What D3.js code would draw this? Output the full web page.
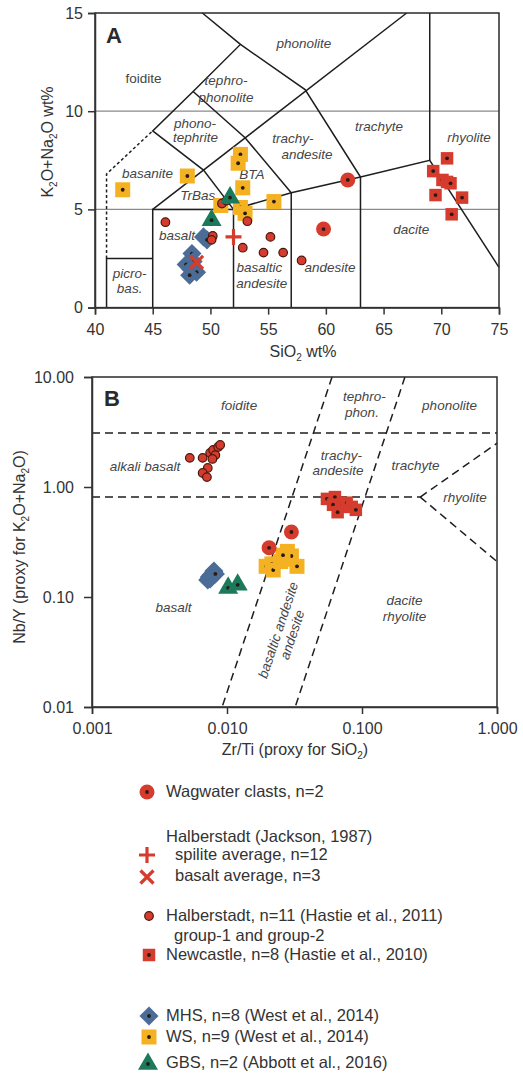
<!DOCTYPE html>
<html lang="en">
<head>
<meta charset="UTF-8" />
<title>TAS and Nb/Y vs Zr/Ti</title>
<script src="https://d3js.org/d3.v7.min.js"></script>
<style>
  body { margin: 0; background: #fff; }
  svg { font-family: "Liberation Sans", Arial, sans-serif; }
</style>
</head>
<body>
<svg id="chart"></svg>
<script>
// ---- panel A data: SiO2 wt%, K2O+Na2O wt%
var tasWagwater = [[61.9, 6.5], [59.8, 4.0]];
var tasSpilite = [[52.0, 3.6]];
var tasBasaltAvg = [[48.8, 2.3]];
var tasHalberstadt = [[46.1, 4.35], [51.0, 5.3], [51.4, 5.45], [53.2, 4.4], [50.2, 3.65], [50.1, 3.45],
  [52.8, 3.05], [55.2, 3.6], [54.6, 2.8], [56.3, 2.8], [57.9, 2.4]];
var tasNewcastle = [[70.5, 7.6], [69.3, 6.95], [70.1, 6.5], [70.5, 6.4], [70.8, 6.33], [69.5, 5.73], [71.8, 5.6], [70.9, 4.75]];
var tasMHS = [[49.4, 3.6], [49.7, 3.45], [48.4, 2.75], [48.5, 2.35], [47.9, 2.2], [48.3, 1.95], [48.8, 1.8], [48.2, 1.65]];
var tasWS = [[42.4, 6.0], [48.0, 6.7], [52.6, 7.8], [52.4, 7.35], [52.8, 6.1], [50.9, 5.2], [52.6, 5.1], [53.0, 4.8], [55.5, 5.4]];
var tasGBS = [[50.1, 4.45], [51.7, 5.6]];

var siTicks = [40, 45, 50, 55, 60, 65, 70, 75];
var alkTicks = [0, 5, 10, 15];
var alkGrid = [5, 10];

// TAS field boundaries (SiO2, alkali)
var tasLines = [
  [[41, 0], [41, 2.5], [45, 2.5]],
  [[45, 0], [45, 5], [52, 5], [57, 5.85], [63, 6.65], [69, 7.5], [75, 2.05]],
  [[52, 0], [52, 5]],
  [[57, 0], [57, 5.85]],
  [[63, 0], [63, 6.65]],
  [[69, 7.5], [69, 15]],
  [[45, 5], [67, 15]],
  [[52, 5], [49.4, 7.0], [45, 9.0], [48.5, 11.0], [52.6, 13.4], [49.3, 15]],
  [[52.6, 13.4], [58.2, 11.1], [63, 6.65]],
  [[48.5, 11.0], [53, 8.65], [57, 5.85]]
];
var tasDashed = [[[41, 2.5], [41, 6.8], [45, 9.0]]];
var tasLabels = [
  ["foidite", 44.2, 11.7, false], ["tephro-", 51.35, 11.55, true], ["phonolite", 51.35, 10.7, true],
  ["phono-", 48.66, 9.4, true], ["tephrite", 48.7, 8.68, true], ["phonolite", 58.1, 13.45, true],
  ["trachyte", 64.6, 9.24, true], ["trachy-", 57.15, 8.63, true], ["andesite", 58.37, 7.81, true],
  ["rhyolite", 72.4, 8.67, true], ["basanite", 44.55, 6.85, true], ["BTA", 53.6, 6.79, true],
  ["TrBas", 48.9, 5.73, true], ["basalt", 47.1, 3.69, true], ["picro-", 43.0, 1.76, true],
  ["bas.", 43.0, 1.0, true], ["basaltic", 54.25, 2.05, true], ["andesite", 54.45, 1.24, true],
  ["andesite", 60.36, 2.05, true], ["dacite", 67.4, 4.0, true]
];

// ---- panel B data: Zr/Ti, Nb/Y
var zrWagwater = [[0.030, 0.39], [0.0205, 0.28]];
var zrHalberstadt = [[0.0053, 1.84], [0.0066, 1.84], [0.0075, 2.04], [0.0079, 2.17], [0.0086, 2.31], [0.0089, 2.41],
  [0.0082, 1.95], [0.0078, 1.80], [0.0072, 1.49], [0.0066, 1.34], [0.0071, 1.23]];
var zrNewcastle = [[0.055, 0.78], [0.063, 0.81], [0.061, 0.69], [0.071, 0.66], [0.077, 0.72], [0.084, 0.66], [0.066, 0.59], [0.090, 0.62]];
var zrMHS = [[0.0072, 0.143], [0.0074, 0.152], [0.0075, 0.146], [0.0076, 0.158], [0.0078, 0.155], [0.0079, 0.165], [0.0080, 0.172], [0.0082, 0.162]];
var zrWS = [[0.0195, 0.19], [0.0215, 0.20], [0.022, 0.176], [0.025, 0.21], [0.027, 0.22], [0.028, 0.26], [0.030, 0.236], [0.026, 0.24], [0.033, 0.19]];
var zrGBS = [[0.0102, 0.121], [0.0120, 0.129]];

var zrTicks = [0.001, 0.01, 0.1, 1];
var nbTicks = [0.01, 0.1, 1, 10];

var wfLines = [
  [[0.001, 3.1], [1, 3.1]],
  [[0.001, 0.81], [0.27, 0.81]],
  [[0.27, 0.81], [1, 2.5]],
  [[0.27, 0.81], [1, 0.21]],
  [[0.060, 10], [0.0092, 0.01]],
  [[0.208, 10], [0.032, 0.01]]
];
var wfLabels = [
  ["foidite", 0.0123, 5.56], ["tephro-", 0.104, 6.72], ["phon.", 0.1, 4.8], ["phonolite", 0.445, 5.56],
  ["alkali basalt", 0.00247, 1.55], ["trachy-", 0.0705, 1.95], ["andesite", 0.0665, 1.43],
  ["trachyte", 0.249, 1.585], ["rhyolite", 0.579, 0.811], ["basalt", 0.00402, 0.0811],
  ["dacite", 0.2065, 0.094], ["rhyolite", 0.2065, 0.0672]
];

var red = "#d63c2d", yellow = "#f4b223", blue = "#4a6c97", green = "#1b7a5c";
var labelColor = "#454545";

var styles = {
  wagwater: { shape: "circle", r: 7.5, fill: red, dot: true },
  halberstadt: { shape: "circle", r: 4.3, fill: red, stroke: "#4a1810", dot: false },
  newcastle: { shape: "square", size: 12.5, fill: red, dot: true },
  mhs: { shape: "diamond", size: 13.5, fill: blue, dot: true },
  ws: { shape: "square", size: 15, fill: yellow, dot: true },
  gbs: { shape: "triangle", size: 20, fill: green, dot: true },
  spilite: { shape: "plus", size: 16, stroke: red },
  basaltAvg: { shape: "times", size: 13, stroke: red }
};

var plusSym = { draw: function (ctx, size) { var r = Math.sqrt(size) / 2; ctx.moveTo(-r, 0); ctx.lineTo(r, 0); ctx.moveTo(0, -r); ctx.lineTo(0, r); } };
var timesSym = { draw: function (ctx, size) { var r = Math.sqrt(size) / 2; ctx.moveTo(-r, -r); ctx.lineTo(r, r); ctx.moveTo(-r, r); ctx.lineTo(r, -r); } };

function drawMarker(g, st) {
  if (st.shape === "circle") {
    g.append("circle").attr("r", st.r).attr("fill", st.fill)
      .attr("stroke", st.stroke || "none").attr("stroke-width", 1.2);
  } else if (st.shape === "square" || st.shape === "diamond") {
    g.append("path").attr("d", d3.symbol().type(d3.symbolSquare).size(st.size * st.size))
      .attr("fill", st.fill).attr("transform", st.shape === "diamond" ? "rotate(45)" : null);
  } else if (st.shape === "triangle") {
    g.append("path").attr("d", d3.symbol().type(d3.symbolTriangle).size(st.size * st.size * 0.433))
      .attr("fill", st.fill);
  } else {
    g.append("path").attr("d", d3.symbol().type(st.shape === "plus" ? plusSym : timesSym).size(st.size * st.size))
      .attr("fill", "none").attr("stroke", st.stroke).attr("stroke-width", 3.2);
  }
  if (st.dot) g.append("circle").attr("r", 1.9).attr("fill", "#2a1a14");
}

function plotSeries(parent, data, x, y, st) {
  parent.append("g").selectAll("g").data(data).enter().append("g")
    .attr("transform", function (d) { return "translate(" + x(d[0]) + "," + y(d[1]) + ")"; })
    .each(function () { drawMarker(d3.select(this), st); });
}

function styleAxis(g) {
  g.select(".domain").attr("stroke", "#333").attr("stroke-width", 1.5);
  g.selectAll(".tick line").attr("stroke", "#333").attr("stroke-width", 1.5);
  g.selectAll(".tick text").attr("font-size", 16).attr("fill", "#333")
    .attr("font-family", "Liberation Sans, Arial, sans-serif");
}

var svg = d3.select("#chart").attr("width", 523).attr("height", 1076);
svg.append("rect").attr("width", 523).attr("height", 1076).attr("fill", "#fff");

// ================= panel A =================
var xA = d3.scaleLinear().domain([40, 75]).range([95, 499]);
var yA = d3.scaleLinear().domain([0, 15]).range([307.6, 13]);
var gA = svg.append("g");

gA.selectAll(".grid").data(alkGrid).enter().append("line")
  .attr("x1", xA(40)).attr("x2", xA(75)).attr("y1", yA).attr("y2", yA)
  .attr("stroke", "#8a8a8a").attr("stroke-width", 1.3);

var lineA = d3.line().x(function (d) { return xA(d[0]); }).y(function (d) { return yA(d[1]); });
gA.selectAll(".field").data(tasLines).enter().append("path")
  .attr("d", lineA).attr("fill", "none").attr("stroke", "#1e1e1e").attr("stroke-width", 1.5);
gA.selectAll(".dash").data(tasDashed).enter().append("path")
  .attr("d", lineA).attr("fill", "none").attr("stroke", "#1e1e1e").attr("stroke-width", 1.5)
  .attr("stroke-dasharray", "3,2.5");

gA.append("rect").attr("x", xA(40)).attr("y", yA(15)).attr("width", xA(75) - xA(40)).attr("height", yA(0) - yA(15))
  .attr("fill", "none").attr("stroke", "#2a2a2a").attr("stroke-width", 1.5);

gA.selectAll(".lab").data(tasLabels).enter().append("text")
  .attr("x", function (d) { return xA(d[1]); }).attr("y", function (d) { return yA(d[2]); })
  .attr("dy", "0.35em").attr("text-anchor", "middle").attr("font-size", 13.5)
  .attr("font-style", function (d) { return d[3] ? "italic" : "normal"; })
  .attr("fill", labelColor).text(function (d) { return d[0]; });

gA.append("text").attr("x", 106).attr("y", 43).attr("font-size", 22).attr("font-weight", "bold")
  .attr("fill", "#2a2a2a").text("A");

plotSeries(gA, tasWS, xA, yA, styles.ws);
plotSeries(gA, tasMHS, xA, yA, styles.mhs);
plotSeries(gA, tasNewcastle, xA, yA, styles.newcastle);
plotSeries(gA, tasHalberstadt, xA, yA, styles.halberstadt);
plotSeries(gA, tasWagwater, xA, yA, styles.wagwater);
plotSeries(gA, tasGBS, xA, yA, styles.gbs);
plotSeries(gA, tasSpilite, xA, yA, styles.spilite);
plotSeries(gA, tasBasaltAvg, xA, yA, styles.basaltAvg);

gA.append("g").attr("transform", "translate(0," + yA(0) + ")")
  .call(d3.axisBottom(xA).tickValues(siTicks).tickSize(7).tickPadding(9)).call(styleAxis);
gA.append("g").attr("transform", "translate(" + xA(40) + ",0)")
  .call(d3.axisLeft(yA).tickValues(alkTicks).tickSize(7).tickPadding(5)).call(styleAxis);

var tA = gA.append("text").attr("x", 303).attr("y", 357).attr("text-anchor", "middle")
  .attr("font-size", 16).attr("fill", "#333");
tA.append("tspan").text("SiO");
tA.append("tspan").attr("font-size", 10).attr("dy", 4).text("2");
tA.append("tspan").attr("dy", -4).text(" wt%");

var yTA = gA.append("text").attr("transform", "translate(53,142) rotate(-90)").attr("text-anchor", "middle")
  .attr("font-size", 16).attr("fill", "#333");
yTA.append("tspan").text("K");
yTA.append("tspan").attr("font-size", 10).attr("dy", 4).text("2");
yTA.append("tspan").attr("dy", -4).text("O+Na");
yTA.append("tspan").attr("font-size", 10).attr("dy", 4).text("2");
yTA.append("tspan").attr("dy", -4).text("O wt%");

// ================= panel B =================
var xB = d3.scaleLog().domain([0.001, 1]).range([92, 497]);
var yB = d3.scaleLog().domain([0.01, 10]).range([707, 377]);
var gB = svg.append("g");

var lineB = d3.line().x(function (d) { return xB(d[0]); }).y(function (d) { return yB(d[1]); });
gB.selectAll(".wf").data(wfLines).enter().append("path")
  .attr("d", lineB).attr("fill", "none").attr("stroke", "#1e1e1e").attr("stroke-width", 1.5)
  .attr("stroke-dasharray", "8,5");

gB.append("rect").attr("x", xB(0.001)).attr("y", yB(10)).attr("width", xB(1) - xB(0.001)).attr("height", yB(0.01) - yB(10))
  .attr("fill", "none").attr("stroke", "#2a2a2a").attr("stroke-width", 1.5);

gB.selectAll(".lab").data(wfLabels).enter().append("text")
  .attr("x", function (d) { return xB(d[1]); }).attr("y", function (d) { return yB(d[2]); })
  .attr("dy", "0.35em").attr("text-anchor", "middle").attr("font-size", 13.5).attr("font-style", "italic")
  .attr("fill", labelColor).text(function (d) { return d[0]; });

var rot = gB.append("text").attr("transform", "translate(" + xB(0.0239) + "," + yB(0.0501) + ") rotate(-71.6)")
  .attr("text-anchor", "middle").attr("font-size", 13.5).attr("font-style", "italic").attr("fill", labelColor);
rot.append("tspan").attr("x", 0).attr("dy", "0.35em").text("basaltic andesite");
rot.append("tspan").attr("x", 0).attr("dy", "1.1em").text("andesite");

gB.append("text").attr("x", 104).attr("y", 406).attr("font-size", 22).attr("font-weight", "bold")
  .attr("fill", "#2a2a2a").text("B");

plotSeries(gB, zrWS, xB, yB, styles.ws);
plotSeries(gB, zrMHS, xB, yB, styles.mhs);
plotSeries(gB, zrNewcastle, xB, yB, styles.newcastle);
plotSeries(gB, zrHalberstadt, xB, yB, styles.halberstadt);
plotSeries(gB, zrWagwater, xB, yB, styles.wagwater);
plotSeries(gB, zrGBS, xB, yB, styles.gbs);

gB.append("g").attr("transform", "translate(0," + yB(0.01) + ")")
  .call(d3.axisBottom(xB).tickValues(zrTicks).tickFormat(d3.format(".3f")).tickSize(7).tickPadding(9)).call(styleAxis);
gB.append("g").attr("transform", "translate(" + xB(0.001) + ",0)")
  .call(d3.axisLeft(yB).tickValues(nbTicks).tickFormat(d3.format(".2f")).tickSize(8).tickPadding(10)).call(styleAxis);

var tB = gB.append("text").attr("x", 295).attr("y", 755).attr("text-anchor", "middle")
  .attr("font-size", 16).attr("fill", "#333");
tB.append("tspan").text("Zr/Ti (proxy for SiO");
tB.append("tspan").attr("font-size", 10).attr("dy", 4).text("2");
tB.append("tspan").attr("dy", -4).text(")");

var yTB = gB.append("text").attr("transform", "translate(25,547) rotate(-90)").attr("text-anchor", "middle")
  .attr("font-size", 16).attr("fill", "#333");
yTB.append("tspan").text("Nb/Y (proxy for K");
yTB.append("tspan").attr("font-size", 10).attr("dy", 4).text("2");
yTB.append("tspan").attr("dy", -4).text("O+Na");
yTB.append("tspan").attr("font-size", 10).attr("dy", 4).text("2");
yTB.append("tspan").attr("dy", -4).text("O)");

// ================= legend =================
var legendItems = [
  { st: styles.wagwater, mx: 147, my: 792, text: "Wagwater clasts, n=2", tx: 166, ty: 797 },
  { st: null, text: "Halberstadt (Jackson, 1987)", tx: 166, ty: 842 },
  { st: styles.spilite, mx: 147, my: 855, text: "spilite average, n=12", tx: 175, ty: 860 },
  { st: styles.basaltAvg, mx: 147, my: 877, text: "basalt average, n=3", tx: 175, ty: 881 },
  { st: styles.halberstadt, mx: 149, my: 916, text: "Halberstadt, n=11 (Hastie et al., 2011)", tx: 166, ty: 921 },
  { st: null, text: "group-1 and group-2", tx: 174, ty: 941 },
  { st: styles.newcastle, mx: 149, my: 955, text: "Newcastle, n=8 (Hastie et al., 2010)", tx: 166, ty: 960 },
  { st: styles.mhs, mx: 149, my: 1016, text: "MHS, n=8 (West et al., 2014)", tx: 166, ty: 1021 },
  { st: styles.ws, mx: 149, my: 1037, text: "WS, n=9 (West et al., 2014)", tx: 166, ty: 1042 },
  { st: styles.gbs, mx: 148, my: 1064, text: "GBS, n=2 (Abbott et al., 2016)", tx: 166, ty: 1068 }
];
var gL = svg.append("g");
legendItems.forEach(function (d) {
  if (d.st) {
    var m = gL.append("g").attr("transform", "translate(" + d.mx + "," + d.my + ")");
    drawMarker(m, d.st);
  }
  gL.append("text").attr("x", d.tx).attr("y", d.ty).attr("font-size", 16.5).attr("fill", "#333").text(d.text);
});
</script>
</body>
</html>
